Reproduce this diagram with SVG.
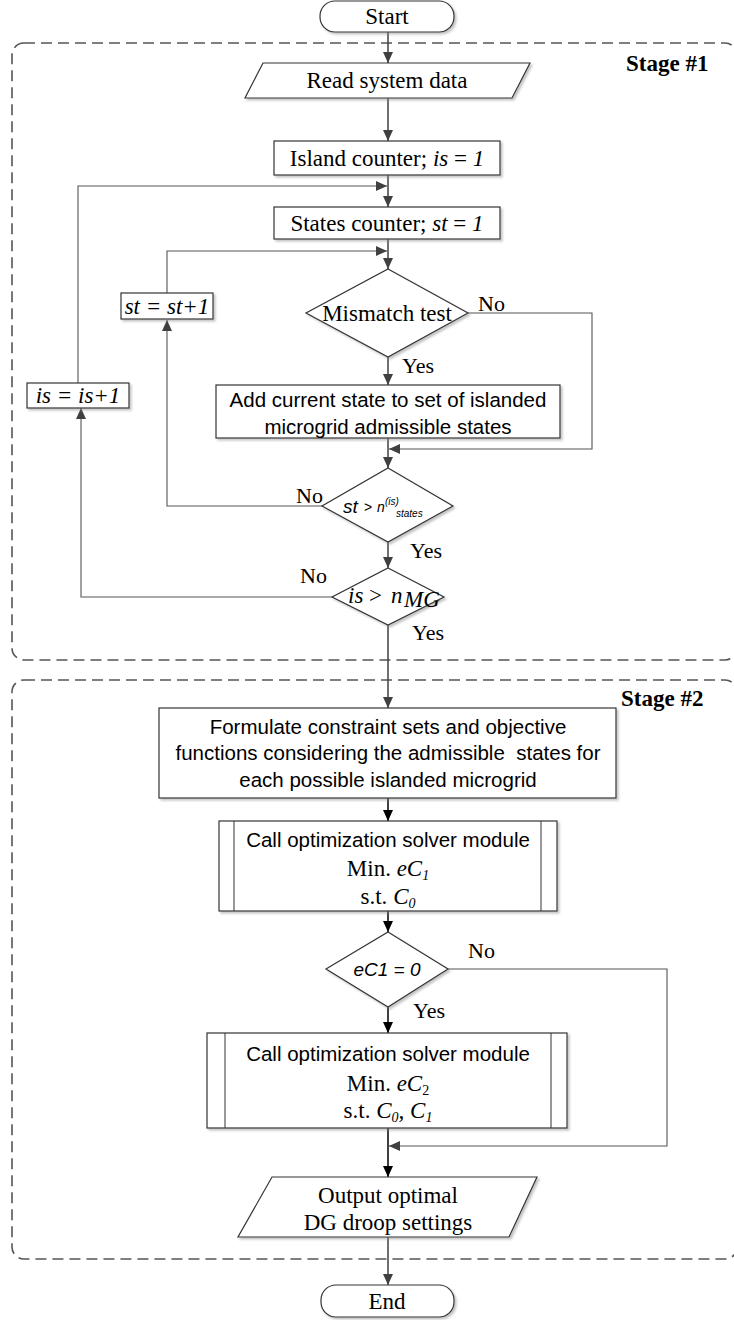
<svg xmlns="http://www.w3.org/2000/svg" width="734" height="1320" viewBox="0 0 734 1320">
<defs>
<marker id="ah" markerUnits="userSpaceOnUse" markerWidth="12" markerHeight="10" refX="11" refY="5" orient="auto"><path d="M0,0 L11,5 L0,10 z" fill="#404040"/></marker>
<marker id="ahk" markerUnits="userSpaceOnUse" markerWidth="12" markerHeight="10" refX="11" refY="5" orient="auto"><path d="M0,0 L11,5 L0,10 z" fill="#000"/></marker>
<filter id="sh" x="-5%" y="-5%" width="115%" height="130%"><feDropShadow dx="2" dy="2" stdDeviation="0.8" flood-color="#888" flood-opacity="0.5"/></filter>
</defs>
<style>
.box{fill:#fff;stroke:#333;stroke-width:1.2;filter:url(#sh)}
.inner{fill:none;stroke:#333;stroke-width:1}
.stage{fill:none;stroke:#555;stroke-width:1.6;stroke-dasharray:11 6}
.tm{font-family:"Liberation Serif","Times New Roman",serif;font-size:23px;fill:#000}
.tb{font-family:"Liberation Serif","Times New Roman",serif;font-size:23px;font-weight:bold;fill:#000}
.sn{font-family:"Liberation Sans",Arial,sans-serif;font-size:20.5px;fill:#000}
.yn{font-family:"Liberation Serif","Times New Roman",serif;font-size:22px;fill:#000}
.ss{font-family:"Liberation Sans",Arial,sans-serif;font-style:italic;fill:#000}
.c{text-anchor:middle}
.it{font-style:italic}
.ln{fill:none;stroke:#404040;stroke-width:1.5}
.lk{fill:none;stroke:#000;stroke-width:1.5}
.lp{fill:none;stroke:#555;stroke-width:1.1}
</style>

<g id="stages">
<rect class="stage" x="12" y="43" width="725" height="617" rx="12"/>
<text class="tb" x="626" y="71">Stage #1</text>
<rect class="stage" x="12" y="680" width="725" height="579" rx="12"/>
<text class="tb" x="621" y="706">Stage #2</text>
</g>

<g id="connectors">
<line class="ln" x1="388" y1="32" x2="388" y2="63" marker-end="url(#ah)"/>
<line class="ln" x1="388" y1="98" x2="388" y2="141" marker-end="url(#ah)"/>
<line class="ln" x1="388" y1="175" x2="388" y2="207" marker-end="url(#ah)"/>
<line class="ln" x1="388" y1="239" x2="388" y2="269" marker-end="url(#ah)"/>
<polyline class="lp" points="78,383 78,186 387,186" marker-end="url(#ah)"/>
<polyline class="lp" points="167,293 167,251 387,251" marker-end="url(#ah)"/>
<line class="ln" x1="388" y1="357" x2="388" y2="385" marker-end="url(#ah)"/>
<polyline class="lp" points="468,313 592,313 592,449 389,449" marker-end="url(#ah)"/>
<line class="ln" x1="388" y1="438" x2="388" y2="468" marker-end="url(#ah)"/>
<polyline class="lp" points="322,506 167,506 167,320" marker-end="url(#ah)"/>
<line class="ln" x1="388" y1="542" x2="388" y2="568" marker-end="url(#ah)"/>
<polyline class="lp" points="332,597 81,597 81,408" marker-end="url(#ah)"/>
<line class="ln" x1="388" y1="625" x2="388" y2="708" marker-end="url(#ah)"/>
<line class="lk" x1="388" y1="798" x2="388" y2="821" marker-end="url(#ahk)"/>
<line class="lk" x1="388" y1="911" x2="388" y2="932" marker-end="url(#ahk)"/>
<line class="lk" x1="388" y1="1007" x2="388" y2="1033" marker-end="url(#ahk)"/>
<polyline class="lp" points="448,969 667,969 667,1146 389,1146" marker-end="url(#ah)"/>
<line class="lk" x1="388" y1="1128" x2="388" y2="1177" marker-end="url(#ahk)"/>
<line class="ln" x1="388" y1="1237" x2="388" y2="1285" marker-end="url(#ah)"/>
</g>

<g id="labels">
<text class="yn" x="478" y="311">No</text>
<text class="yn" x="402" y="373">Yes</text>
<text class="yn" x="296" y="503">No</text>
<text class="yn" x="410" y="558">Yes</text>
<text class="yn" x="300" y="583">No</text>
<text class="yn" x="412" y="640">Yes</text>
<text class="yn" x="468" y="958">No</text>
<text class="yn" x="413" y="1018">Yes</text>
</g>

<g id="start">
<rect class="box" x="320" y="1" width="134" height="31" rx="15"/>
<text class="tm c" x="387" y="24">Start</text>
</g>

<g id="read">
<polygon class="box" points="263,63 530,63 512,98 245,98"/>
<text class="tm c" x="387" y="88">Read system data</text>
</g>

<g id="island">
<rect class="box" x="274" y="141" width="226" height="34"/>
<text class="tm c" x="387" y="166">Island counter; <tspan class="it">is</tspan> = <tspan class="it">1</tspan></text>
</g>

<g id="states">
<rect class="box" x="274" y="207" width="226" height="32"/>
<text class="tm c" x="387" y="231">States counter; <tspan class="it">st</tspan> = <tspan class="it">1</tspan></text>
</g>

<g id="st-inc">
<rect class="box" x="121" y="293" width="92" height="26"/>
<text class="tm c it" x="167" y="314">st = st+1</text>
</g>

<g id="is-inc">
<rect class="box" x="27" y="383" width="102" height="25"/>
<text class="tm c it" x="78" y="403">is = is+1</text>
</g>

<g id="mismatch">
<polygon class="box" points="388,269 468,313 388,357 306,313"/>
<text class="tm c" x="387" y="321">Mismatch test</text>
</g>

<g id="add-state">
<rect class="box" x="216" y="385" width="344" height="53"/>
<text class="sn c" x="388" y="407">Add current state to set of islanded</text>
<text class="sn c" x="388" y="434">microgrid admissible states</text>
</g>

<g id="st-test">
<polygon class="box" points="388,468 453,506 388,542 322,506"/>
<text class="ss" font-size="19" x="343" y="513">st</text>
<text font-family="Liberation Sans, Arial, sans-serif" font-size="14" x="364" y="512">&gt;</text>
<text class="ss" font-size="14" x="377" y="512">n</text>
<text class="ss" font-size="10" x="385" y="505">(is)</text>
<text class="ss" font-size="10" x="396" y="517">states</text>
</g>

<g id="is-test">
<polygon class="box" points="388,568 444,597 388,625 332,597"/>
<text class="tm it" font-size="22" x="348" y="603">is</text>
<text class="tm" font-size="22" x="369" y="603">&gt;</text>
<text class="tm it" font-size="22" x="391" y="603">n</text>
<text class="tm it" font-size="14" x="404" y="607">MG</text>
</g>

<g id="formulate">
<rect class="box" x="159" y="708" width="457" height="90"/>
<text class="sn c" x="388" y="734">Formulate constraint sets and objective</text>
<text class="sn c" x="388" y="760" xml:space="preserve">functions considering the admissible  states for</text>
<text class="sn c" x="388" y="787">each possible islanded microgrid</text>
</g>

<g id="solver1">
<rect class="box" x="219" y="821" width="338" height="90"/>
<line class="inner" x1="234" y1="821" x2="234" y2="911"/>
<line class="inner" x1="541" y1="821" x2="541" y2="911"/>
<text class="sn c" x="388" y="847">Call optimization solver module</text>
<text class="tm c" x="388" y="876">Min. <tspan class="it">eC</tspan><tspan class="it" font-size="14" dy="4">1</tspan></text>
<text class="tm c" x="388" y="904">s.t. <tspan class="it">C</tspan><tspan class="it" font-size="14" dy="4">0</tspan></text>
</g>

<g id="ec1-test">
<polygon class="box" points="388,932 448,969 388,1007 326,969"/>
<text class="ss" font-size="19" text-anchor="middle" x="387" y="976">eC1 = 0</text>
</g>

<g id="solver2">
<rect class="box" x="207" y="1033" width="360" height="95"/>
<line class="inner" x1="225" y1="1033" x2="225" y2="1128"/>
<line class="inner" x1="551" y1="1033" x2="551" y2="1128"/>
<text class="sn c" x="388" y="1061">Call optimization solver module</text>
<text class="tm c" x="388" y="1091">Min. <tspan class="it">eC</tspan><tspan font-size="14" dy="4">2</tspan></text>
<text class="tm c" x="388" y="1118">s.t. <tspan class="it">C</tspan><tspan class="it" font-size="14" dy="4">0</tspan><tspan class="it" dy="-4">, C</tspan><tspan class="it" font-size="14" dy="4">1</tspan></text>
</g>

<g id="output">
<polygon class="box" points="272,1177 537,1177 509,1237 238,1237"/>
<text class="tm c" x="388" y="1203">Output optimal</text>
<text class="tm c" x="388" y="1230">DG droop settings</text>
</g>

<g id="end">
<rect class="box" x="321" y="1285" width="133" height="32" rx="15"/>
<text class="tm c" x="387" y="1309">End</text>
</g>
</svg>
